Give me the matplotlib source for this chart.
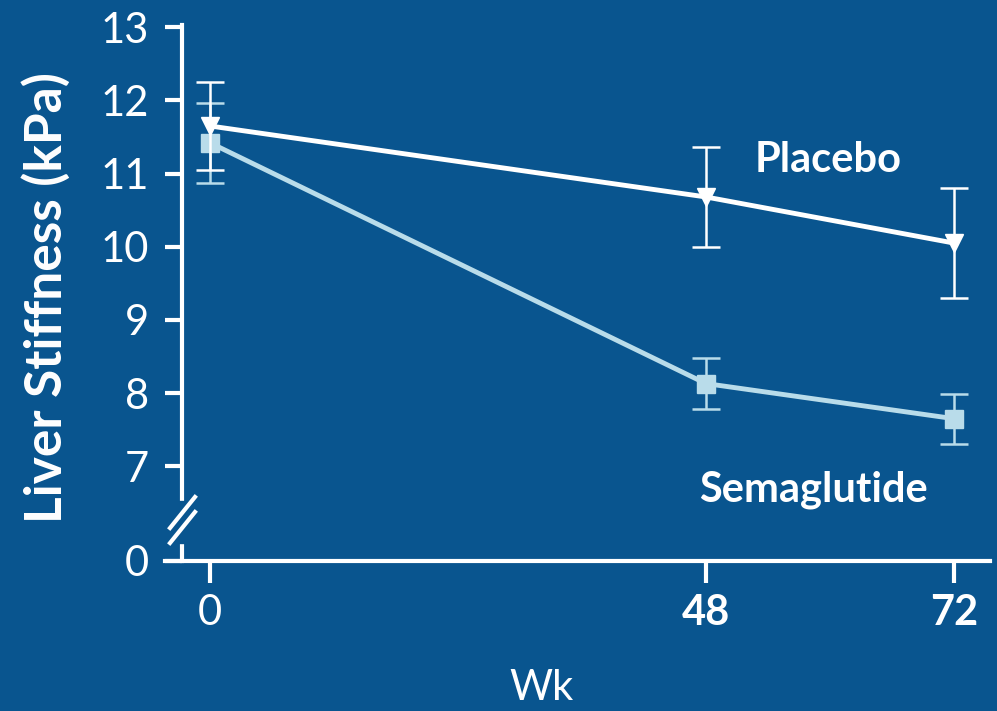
import matplotlib.pyplot as plt
from matplotlib.lines import Line2D

# data
weeks = [0, 48, 72]
placebo = [11.65, 10.68, 10.05]
placebo_err = [0.60, 0.68, 0.75]
sema = [11.42, 8.13, 7.65]
sema_err = [0.55, 0.35, 0.34]
yticks = [7, 8, 9, 10, 11, 12, 13]
xtick_labels = ['0', '48', '72']

bg = '#09558f'
white = '#ffffff'
light = '#b9dcea'

plt.rcParams['font.family'] = ['Lato', 'DejaVu Sans']

W, H = 997, 711
fig = plt.figure(figsize=(W / 100, H / 100), dpi=100)
fig.patch.set_facecolor(bg)

# main part (7..13)
ax = fig.add_axes([182 / W, 1 - 505 / H, (990 - 182) / W, 480 / H])
# lower part holding the zero and the x axis, starts a bit left of the y spine
ax0 = fig.add_axes([165 / W, 1 - 561 / H, (990 - 165) / W, 21 / H])

for a in (ax, ax0):
    a.set_facecolor('none')
    for s in ('top', 'right'):
        a.spines[s].set_visible(False)
    a.spines['left'].set_color(white)
    a.spines['left'].set_linewidth(3)
    a.tick_params(colors=white, width=3, length=12, labelsize=30)

ax.set_xlim(-2.71, 75.5)
ax0.set_xlim(-2.71 - 17 / 10.33, 75.5)
ax0.spines['left'].set_position(('data', -2.71))

ax.spines['bottom'].set_visible(False)
ax.set_ylim(6.47, 13.03)
ax.set_yticks(yticks)
ax.set_xticks([])
ax.tick_params(axis='y', pad=12)

ax.errorbar(weeks, placebo, yerr=placebo_err, color=white, lw=3.5,
            marker='v', ms=13, mfc=white, mec=white,
            ecolor=white, elinewidth=1.8, capsize=10, capthick=1.8, zorder=3)
ax.errorbar(weeks, sema, yerr=sema_err, color=light, lw=3.5,
            marker='s', ms=13, mfc=light, mec=light,
            ecolor=light, elinewidth=1.8, capsize=10, capthick=1.8, zorder=2)

fig.text(828 / W, 1 - 160 / H, 'Placebo', color=white, fontsize=30,
         fontweight='bold', ha='center', va='center')
fig.text(813 / W, 1 - 490 / H, 'Semaglutide', color=white, fontsize=30,
         fontweight='bold', ha='center', va='center')

ax0.set_ylim(0, 0.29)
ax0.set_yticks([0])
ax0.spines['bottom'].set_color(white)
ax0.spines['bottom'].set_linewidth(3)
ax0.set_xticks(weeks)
ax0.set_xticklabels(xtick_labels)
ax0.tick_params(axis='y', pad=12)
ax0.tick_params(axis='x', length=16, pad=8)
for lab in ax0.get_xticklabels()[1:]:
    lab.set_fontweight('bold')

fig.text(46 / W, 1 - 298 / H, 'Liver Stiffness (kPa)', color=white,
         fontsize=37, fontweight='bold', rotation=90,
         ha='center', va='center')
fig.text(541 / W, 1 - 688 / H, 'Wk', color=white, fontsize=30,
         ha='center', va='center')

# break marks on the y axis
fig.add_artist(Line2D([182 / W, 182 / W], [1 - 540 / H, 1 - 505 / H],
                      color=bg, lw=6))
for y0 in (528, 543):
    fig.add_artist(Line2D([170 / W, 195 / W],
                          [1 - y0 / H, 1 - (y0 - 31) / H],
                          color=white, lw=3))

fig.savefig('out.png', dpi=100, facecolor=bg)
